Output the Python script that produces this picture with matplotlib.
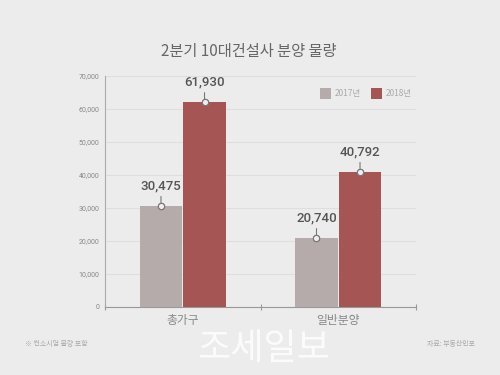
import matplotlib
matplotlib.use("Agg")
import matplotlib.pyplot as plt
import numpy as np

plt.rcParams['font.family'] = ['Noto Sans CJK KR', 'DejaVu Sans']

title = "2분기 10대건설사 분양 물량"
categories = ["총가구", "일반분양"]
series_names = ["2017년", "2018년"]
values_2017 = [30475, 20740]
values_2018 = [61930, 40792]
yticks = [0, 10000, 20000, 30000, 40000, 50000, 60000, 70000]
note_left = "※ 컨소시엄 물량 포함"
note_right = "자료: 부동산인포"
watermark = "조세일보"

bg = "#ececec"
c2017 = "#b5abab"
c2018 = "#a65555"

fig = plt.figure(figsize=(5, 3.75), dpi=100, facecolor=bg)
ax = fig.add_axes([0.21, 0.182, 0.622, 0.616], facecolor=bg)

x = np.arange(len(categories))
w = 0.28
series = [values_2017, values_2018]
colors = [c2017, c2018]
for i, (vals, col, name) in enumerate(zip(series, colors, series_names)):
    pos = x + (i - 0.5) * w
    ax.bar(pos, vals, width=w - 0.004, color=col, label=name, zorder=3)
    for px, v in zip(pos, vals):
        ax.plot([px, px], [v, v], marker='o', ms=4.5, mfc='#eeeeee', mec='#777777',
                mew=0.8, zorder=5)
        ax.annotate(f"{v:,}", xy=(px, v), xytext=(0, 10), textcoords='offset points',
                    ha='center', va='bottom', fontsize=9.5, color='#555555',
                    fontweight='medium',
                    family=['Roboto', 'DejaVu Sans'], zorder=6,
                    arrowprops=dict(arrowstyle='-', color='#777777', lw=0.8,
                                    shrinkA=1, shrinkB=2.5))

ax.set_xlim(-0.5, 1.5)
ax.set_ylim(0, 70000)
ax.set_yticks(yticks)
ax.set_yticklabels([f"{t:,}" for t in yticks], fontsize=5, color='#888888',
                   family=['Roboto', 'DejaVu Sans'])
ax.yaxis.grid(True, color='#dedede', lw=0.8, zorder=0)
ax.tick_params(axis='y', length=0, pad=4)

ax.set_xticks([-0.5, 0.5, 1.5], minor=False)
ax.set_xticklabels([])
ax.set_xticks(x, minor=True)
ax.set_xticklabels(categories, minor=True, fontsize=8.5, color='#888888')
ax.tick_params(axis='x', which='major', direction='inout', length=5, color='#999999', width=0.8)
ax.tick_params(axis='x', which='minor', length=0, pad=5)

for s in ['top', 'right']:
    ax.spines[s].set_visible(False)
ax.spines['left'].set_color('#aaaaaa')
ax.spines['left'].set_linewidth(0.8)
ax.spines['bottom'].set_color('#999999')
ax.spines['bottom'].set_linewidth(0.8)

leg = ax.legend(loc='upper right', ncol=2, frameon=False, fontsize=6,
                handlelength=1.3, handleheight=1.6, handletextpad=0.4,
                columnspacing=1.3, bbox_to_anchor=(1.01, 0.98), labelcolor='#aaaaaa')

fig.text(0.497, 0.862, title, ha='center', va='center', fontsize=11, color='#666666')
fig.text(0.05, 0.083, note_left, ha='left', va='center', fontsize=5, color='#aaaaaa')
fig.text(0.95, 0.083, note_right, ha='right', va='center', fontsize=5, color='#aaaaaa')
fig.text(0.527, 0.07, watermark, ha='center', va='center', fontsize=26,
         color='white', alpha=0.8)

fig.savefig("out.png", dpi=100, facecolor=bg)
